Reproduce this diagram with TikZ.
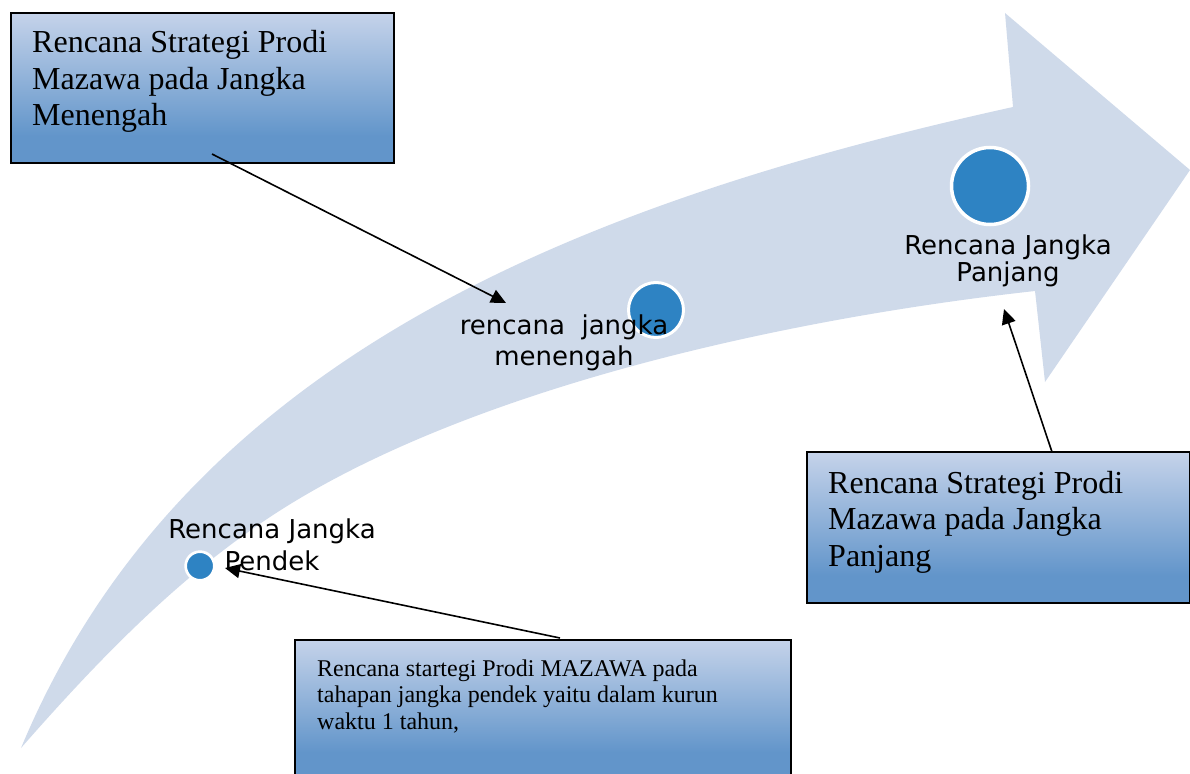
\documentclass[tikz,border=0pt]{standalone}
\usepackage{fontspec}
\setmainfont{Liberation Serif}
\newfontfamily\lblfont{DejaVu Sans}
\usetikzlibrary{arrows.meta}
\definecolor{arrowfill}{RGB}{207,218,234}
\definecolor{dotblue}{RGB}{46,131,195}
\definecolor{boxtop}{RGB}{197,211,234}
\definecolor{boxbot}{RGB}{98,149,202}
\pgfdeclareverticalshading{boxshade}{100bp}{color(0bp)=(boxbot); color(25bp)=(boxbot); color(34bp)=(boxbot); color(75bp)=(boxtop); color(100bp)=(boxtop)}
\tikzset{
  boxstyle/.style={rectangle, draw=black, line width=2pt, shade, shading=boxshade, inner sep=0pt, anchor=north west},
  boxtext/.style={anchor=base west, inner sep=0pt},
  dot/.style={circle, fill=dotblue, draw=white, inner sep=0pt},
  lbl/.style={anchor=base, inner sep=0pt},
  conn/.style={draw=black, line width=1.6pt, -{Triangle[length=15pt,width=14pt]}}
}
\begin{document}
\begin{tikzpicture}[x=1pt,y=-1pt]
\useasboundingbox (0,0) rectangle (1190,773);
\clip (0,0) rectangle (1190,773);
% big curved arrow
\fill[arrowfill] (21,748) .. controls (182.7,360.3) and (574,203.8) .. (1013,107)
  -- (1005,13) -- (1190,170) -- (1045,382) -- (1035,291)
  .. controls (780.5,319.2) and (485.5,386.9) .. (297,500)
  .. controls (190.7,563.7) and (102.7,654.8) .. (21,748) -- cycle;
% dots
\node[dot, line width=2.7pt, minimum size=28.7pt] (c1) at (200,566) {};
\node[dot, line width=3pt, minimum size=55pt] (c2) at (656,310) {};
\node[dot, line width=3.5pt, minimum size=77pt] (c3) at (990,186) {};
% labels
\node[lbl] (l1) at (272,538) {\parbox[t]{260pt}{\centering\lblfont\fontsize{26}{32}\selectfont Rencana Jangka\\Pendek}};
\node[lbl] (l2) at (564,334) {\parbox[t]{260pt}{\centering\lblfont\fontsize{26}{31}\selectfont rencana\ \ jangka\\menengah}};
\node[lbl] (l3) at (1008,254) {\parbox[t]{260pt}{\centering\lblfont\fontsize{26}{27}\selectfont Rencana Jangka\\Panjang}};
% boxes
\node[boxstyle, minimum width=383pt, minimum height=150pt] (box1) at (10,12) {};
\node[boxstyle, minimum width=383pt, minimum height=151pt] (box2) at (806,451) {};
\node[boxstyle, minimum width=496pt, minimum height=137pt] (box3) at (294,639) {};
\node[boxtext] (t1) at (32,53) {\parbox[t]{360pt}{\fontsize{32}{36.5}\selectfont Rencana Strategi Prodi\\Mazawa pada Jangka\\Menengah}};
\node[boxtext] (t2) at (828,493) {\parbox[t]{360pt}{\fontsize{32}{36.5}\selectfont Rencana Strategi Prodi\\Mazawa pada Jangka\\Panjang}};
\node[boxtext] (t3) at (317,676) {\parbox[t]{470pt}{\fontsize{24}{26.5}\selectfont Rencana startegi Prodi MAZAWA pada\\tahapan jangka pendek yaitu dalam kurun\\waktu 1 tahun,}};
% connectors
\coordinate (a1s) at (212,154);
\coordinate (a1e) at (506,303);
\coordinate (a2s) at (1052,452);
\coordinate (a2e) at (1004,309);
\coordinate (a3s) at (560,638);
\coordinate (a3e) at (225,568);
\draw[conn] (a1s) -- (a1e);
\draw[conn] (a2s) -- (a2e);
\draw[conn] (a3s) -- (a3e);
\end{tikzpicture}
\end{document}
